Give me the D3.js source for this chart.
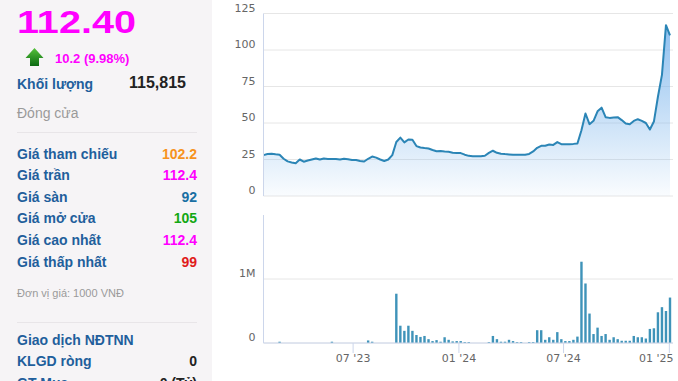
<!DOCTYPE html>
<html>
<head>
<meta charset="utf-8">
<script src="https://cdn.jsdelivr.net/npm/d3@7/dist/d3.min.js"></script>
<style>
  body { margin: 0; background: #fff; }
  svg { display: block; }
</style>
</head>
<body>
<svg id="chart" width="678" height="381"></svg>
<script>
// weekly closing price (1000 VND), one value per week
const priceValues = [
  28, 28.8, 29, 28.6, 28.3, 25.5, 23.7, 23, 22.5, 25,
  23.5, 24.3, 25, 25.7, 25, 25.7, 25.4, 25.3, 25.3, 25,
  25.5, 25.2, 24.7, 24.7, 24, 23.6, 25.5, 27, 26.3, 25,
  24, 25, 28, 37, 40, 36.7, 38.7, 38.5, 34.2, 33.2,
  32.8, 32.5, 31.5, 30.7, 30.8, 30.5, 30.3, 29.6, 29.4, 29.4,
  28.3, 27.5, 27.3, 27.3, 27.3, 27.6, 29.5, 31, 29.6, 29,
  28.7, 28.5, 28.2, 28.3, 28.2, 28.3, 28.8, 30.5, 33, 34.4,
  34.4, 35.3, 35, 36.9, 35.5, 35.5, 35.5, 35.7, 36, 45,
  56.5, 49.2, 51.5, 58, 60.5, 54, 53.5, 53.8, 54, 52,
  49.6, 49.2, 51.4, 52.6, 51.5, 50, 45.5, 51, 68, 83,
  117, 110
]

// weekly traded volume (shares)
const volumeValues = [
  0, 0, 0, 0, 20000, 0, 0, 0, 0, 0,
  0, 0, 0, 0, 0, 0, 0, 20000, 0, 0,
  0, 0, 0, 0, 0, 0, 40000, 20000, 0, 0,
  0, 0, 0, 770000, 270000, 190000, 270000, 190000, 125000, 95000,
  110000, 60000, 30000, 45000, 20000, 90000, 50000, 25000, 30000, 30000,
  15000, 15000, 0, 0, 0, 0, 15000, 110000, 60000, 20000,
  20000, 50000, 30000, 15000, 15000, 0, 15000, 15000, 200000, 200000,
  50000, 90000, 50000, 170000, 60000, 30000, 30000, 50000, 100000, 1270000,
  930000, 460000, 140000, 240000, 110000, 140000, 50000, 90000, 60000, 35000,
  35000, 35000, 110000, 90000, 90000, 70000, 220000, 230000, 480000, 560000,
  500000, 710000
]

const firstWeek = new Date(2023, 0, 27)
const lastWeek = new Date(2025, 0, 3)

const priceTicks = [0, 25, 50, 75, 100, 125]
const volumeTicks = [0, 1000000]
const volumeTickLabels = ['0', '1M']
const dateTicks = [new Date(2023, 6, 1), new Date(2024, 0, 1), new Date(2024, 6, 1), new Date(2025, 0, 1)]

const lastPrice = '112.40'
const priceChange = '10.2 (9.98%)'
const volumeTotal = '115,815'
const quoteLabels = ['Giá tham chiếu', 'Giá trần', 'Giá sàn', 'Giá mở cửa', 'Giá cao nhất', 'Giá thấp nhất']
const quoteValues = ['102.2', '112.4', '92', '105', '112.4', '99']
const foreignLabels = ['KLGD ròng', 'GT Mua']
const foreignValues = ['0', '0 (Tỷ)']

// styles
const quoteColors = ['#f7931e', '#ff00ff', '#1a6fa3', '#13a813', '#ff00ff', '#e01b1b']
const labelBlue = '#1f5f9c'
const gridColor = '#e6e6e6'
const axisColor = '#ccd6eb'
const tickFont = '"DejaVu Sans", sans-serif'
const panelFont = 'Arial, "Liberation Sans", Helvetica, sans-serif'

const svg = d3.select('#chart')
const weeks = d3.timeFriday.range(firstWeek, d3.timeDay.offset(lastWeek, 1))

const plot = { left: 263.5, right: 673 }
const pricePanel = { top: 13.5, bottom: 196 }
const volumePanel = { top: 215, bottom: 343 }

const xScale = d3.scaleTime().domain([firstWeek, lastWeek]).range([263.5, 670])
const yPrice = d3.scaleLinear().domain([0, 125]).range([pricePanel.bottom, pricePanel.top])
const yVolume = d3.scaleLinear().domain([0, 2000000]).range([volumePanel.bottom, volumePanel.top])

/**
 * Draws the grey quote panel on the left side.
 */
function drawQuotePanel () {
  const g = svg.append('g').attr('font-family', panelFont)

  g.append('rect')
    .attr('x', 0).attr('y', 0)
    .attr('width', 212).attr('height', 381)
    .attr('fill', '#f6f4f6')

  g.append('text')
    .text(lastPrice)
    .attr('x', 17).attr('y', 33)
    .attr('textLength', 119)
    .attr('lengthAdjust', 'spacingAndGlyphs')
    .attr('font-size', 32).attr('font-weight', 'bold')
    .attr('fill', '#ff00ff')

  const grad = svg.append('defs').append('linearGradient')
    .attr('id', 'arrowFill')
    .attr('x1', 0).attr('y1', 0).attr('x2', 0).attr('y2', 1)
  grad.append('stop').attr('offset', 0).attr('stop-color', '#57c23c')
  grad.append('stop').attr('offset', 1).attr('stop-color', '#0c6a12')

  g.append('path')
    .attr('d', 'M34.5,48 L43.5,58 L39,58 L39,66 L30,66 L30,58 L25.5,58 Z')
    .attr('fill', 'url(#arrowFill)')

  g.append('text')
    .text(priceChange)
    .attr('x', 55).attr('y', 62.5)
    .attr('font-size', 13).attr('font-weight', 'bold')
    .attr('fill', '#ff00ff')

  g.append('text')
    .text('Khối lượng')
    .attr('x', 17).attr('y', 89)
    .attr('font-size', 14).attr('font-weight', 'bold')
    .attr('fill', labelBlue)

  g.append('text')
    .text(volumeTotal)
    .attr('x', 186).attr('y', 88)
    .attr('text-anchor', 'end')
    .attr('font-size', 16).attr('font-weight', 'bold')
    .attr('fill', '#222')

  g.append('text')
    .text('Đóng cửa')
    .attr('x', 17).attr('y', 117.5)
    .attr('font-size', 14)
    .attr('fill', '#9a9a9a')

  g.selectAll('line.sep')
    .data([132.5, 322.5])
    .join('line')
    .attr('class', 'sep')
    .attr('x1', 17).attr('x2', 197)
    .attr('y1', d => d).attr('y2', d => d)
    .attr('stroke', '#e8e5e8')

  const rows = g.selectAll('g.quote')
    .data(quoteLabels)
    .join('g')
    .attr('class', 'quote')
    .attr('transform', (d, i) => 'translate(0,' + (158.5 + i * 21.65) + ')')

  rows.append('text')
    .text(d => d)
    .attr('x', 17)
    .attr('font-size', 14).attr('font-weight', 'bold')
    .attr('fill', labelBlue)

  rows.append('text')
    .text((d, i) => quoteValues[i])
    .attr('x', 197)
    .attr('text-anchor', 'end')
    .attr('font-size', 14).attr('font-weight', 'bold')
    .attr('fill', (d, i) => quoteColors[i])

  g.append('text')
    .text('Đơn vị giá: 1000 VNĐ')
    .attr('x', 17).attr('y', 297)
    .attr('font-size', 11)
    .attr('fill', '#9a9a9a')

  g.append('text')
    .text('Giao dịch NĐTNN')
    .attr('x', 17).attr('y', 344.5)
    .attr('font-size', 14).attr('font-weight', 'bold')
    .attr('fill', labelBlue)

  const foreign = g.selectAll('g.foreign')
    .data(foreignLabels)
    .join('g')
    .attr('class', 'foreign')
    .attr('transform', (d, i) => 'translate(0,' + (366 + i * 21.6) + ')')

  foreign.append('text')
    .text(d => d)
    .attr('x', 17)
    .attr('font-size', 14).attr('font-weight', 'bold')
    .attr('fill', labelBlue)

  foreign.append('text')
    .text((d, i) => foreignValues[i])
    .attr('x', 197)
    .attr('text-anchor', 'end')
    .attr('font-size', 14).attr('font-weight', 'bold')
    .attr('fill', '#222')
}

/**
 * Draws the horizontal grid lines and the left tick labels of a panel.
 *
 * @param {*} yScale The scale of the panel
 * @param {number[]} ticks The tick values
 * @param {Function} format Label format for each tick
 */
function drawYAxis (yScale, ticks, format) {
  const g = svg.append('g')

  g.selectAll('line')
    .data(ticks)
    .join('line')
    .attr('x1', plot.left).attr('x2', plot.right)
    .attr('y1', d => yScale(d)).attr('y2', d => yScale(d))
    .attr('stroke', gridColor)

  const axis = svg.append('g')
    .attr('transform', 'translate(' + plot.left + ',0)')
    .call(d3.axisLeft(yScale).tickValues(ticks).tickSize(0).tickPadding(8).tickFormat(format))

  axis.select('.domain').remove()
  axis.selectAll('text')
    .attr('dy', null)
    .attr('y', -2.5)
    .attr('font-family', tickFont)
    .attr('font-size', 11)
    .attr('fill', '#666')
}

/**
 * Draws the price area and line.
 */
function drawPrice () {
  const grad = svg.select('defs').append('linearGradient')
    .attr('id', 'priceFill')
    .attr('x1', 0).attr('y1', 0).attr('x2', 0).attr('y2', 1)
  grad.append('stop').attr('offset', 0).attr('stop-color', '#7cb5ec').attr('stop-opacity', 0.85)
  grad.append('stop').attr('offset', 1).attr('stop-color', '#7cb5ec').attr('stop-opacity', 0.04)

  const area = d3.area()
    .x((d, i) => xScale(weeks[i]))
    .y0(yPrice(0))
    .y1(d => yPrice(d))

  const line = d3.line()
    .x((d, i) => xScale(weeks[i]))
    .y(d => yPrice(d))

  svg.append('path')
    .datum(priceValues)
    .attr('d', area)
    .attr('fill', 'url(#priceFill)')

  svg.append('path')
    .datum(priceValues)
    .attr('d', line)
    .attr('fill', 'none')
    .attr('stroke', '#2b85b6')
    .attr('stroke-width', 2)
    .attr('stroke-linejoin', 'round')

  svg.append('line')
    .attr('x1', plot.left).attr('x2', plot.left)
    .attr('y1', pricePanel.top).attr('y2', pricePanel.bottom)
    .attr('stroke', axisColor)
}

/**
 * Draws the volume bars and the date axis below them.
 */
function drawVolume () {
  svg.append('g')
    .selectAll('rect')
    .data(volumeValues)
    .join('rect')
    .attr('x', (d, i) => xScale(weeks[i]) - 1.2)
    .attr('y', d => yVolume(d))
    .attr('width', 2.4)
    .attr('height', d => yVolume(0) - yVolume(d))
    .attr('fill', '#3f93b9')

  svg.append('line')
    .attr('x1', plot.left).attr('x2', plot.left)
    .attr('y1', volumePanel.top).attr('y2', volumePanel.bottom)
    .attr('stroke', axisColor)

  svg.append('line')
    .attr('x1', plot.left).attr('x2', plot.right)
    .attr('y1', volumePanel.bottom).attr('y2', volumePanel.bottom)
    .attr('stroke', axisColor)

  const axis = svg.append('g')
    .attr('transform', 'translate(0,' + volumePanel.bottom + ')')
    .call(d3.axisBottom(xScale).tickValues(dateTicks).tickSize(10).tickPadding(1)
      .tickFormat(d3.timeFormat("%m '%y")))

  axis.select('.domain').remove()
  axis.selectAll('line').attr('stroke', axisColor)
  axis.selectAll('text')
    .attr('font-family', tickFont)
    .attr('font-size', 11)
    .attr('fill', '#666')
    .each(function (d) {
      // keep the last label inside the plot, as the original does
      const w = this.getComputedTextLength()
      const over = xScale(d) + w / 2 - plot.right
      if (over > 0) d3.select(this).attr('x', -over)
    })
}

drawQuotePanel()
drawYAxis(yPrice, priceTicks, d => d)
drawYAxis(yVolume, volumeTicks, (d, i) => volumeTickLabels[i])
drawPrice()
drawVolume()
</script>
</body>
</html>
